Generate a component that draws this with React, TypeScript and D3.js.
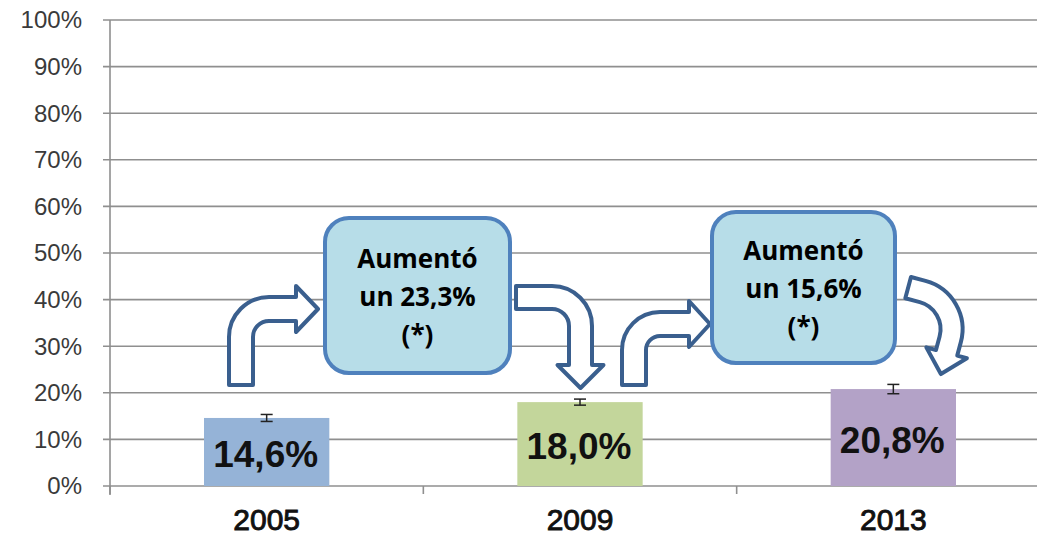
import React from "react";
import * as d3 from "d3";

const years = ["2005", "2009", "2013"];
const values = [0.146, 0.18, 0.208];
const errors = [0.0075, 0.0065, 0.01];
const valueLabels = ["14,6%", "18,0%", "20,8%"];
const barColors = ["#95B3D7", "#C3D69B", "#B3A2C7"];
const yTicks = [0, 0.1, 0.2, 0.3, 0.4, 0.5, 0.6, 0.7, 0.8, 0.9, 1.0];
const boxTexts = [
  ["Aumentó", "un 23,3%", "(*)"],
  ["Aumentó", "un 15,6%", "(*)"],
];

const W = 1037;
const H = 537;

function bentArrow(w: number, h: number, L: number, R: number, hl: number, hh: number) {
  const ri = Math.max(R - w, 2);
  const c = -h + w / 2;
  return [
    `M0,0`,
    `L0,${-h + R}`,
    `A${R},${R} 0 0 1 ${R},${-h}`,
    `L${L - hl},${-h}`,
    `L${L - hl},${c - hh}`,
    `L${L},${c}`,
    `L${L - hl},${c + hh}`,
    `L${L - hl},${-h + w}`,
    `L${w + ri},${-h + w}`,
    `A${ri},${ri} 0 0 0 ${w},${-h + w + ri}`,
    `L${w},0`,
    `Z`,
  ].join(" ");
}

export default function App() {
  const y = d3.scaleLinear().domain([0, 1]).range([486, 20]);
  const x = d3
    .scaleBand<string>()
    .domain(years)
    .range([110, 1050])
    .paddingInner(0.6)
    .paddingOuter(0.3);
  const step = x.step();
  const axisX = 110;

  const arrows = [
    { tx: 229, ty: 385, rot: 0, d: bentArrow(24, 88, 89, 40, 22, 23) },
    { tx: 516, ty: 286, rot: 90, d: bentArrow(23, 76, 102, 40, 23, 23) },
    { tx: 622, ty: 385, rot: 0, d: bentArrow(24, 73, 88, 38, 21, 23) },
    { tx: 911, ty: 277, rot: 105, d: bentArrow(22, 65, 86, 50, 22, 21) },
  ];

  const boxes = [
    { x: 325, y: 218, w: 185, h: 155, lines: boxTexts[0], base: 268 },
    { x: 712, y: 212, w: 183, h: 151, lines: boxTexts[1], base: 260 },
  ];

  return (
    <svg width={W} height={H} style={{ position: "absolute", left: 0, top: 0, background: "#fff" }}>
      <rect x={0} y={0} width={W} height={H} fill="#fff" />
      {yTicks.map((t) => (
        <g key={t}>
          <line x1={103} x2={W} y1={y(t)} y2={y(t)} stroke="#8f8f8f" strokeWidth={1.6} />
          <text
            x={82}
            y={y(t)}
            dy="0.35em"
            textAnchor="end"
            fontFamily="Liberation Sans, Arial, sans-serif"
            fontSize={24}
            fill="#3a3a3a"
          >
            {`${Math.round(t * 100)}%`}
          </text>
        </g>
      ))}
      <line x1={axisX} x2={axisX} y1={y(1)} y2={495} stroke="#8f8f8f" strokeWidth={1.6} />
      {d3.range(years.length + 1).map((i) => (
        <line
          key={i}
          x1={axisX + i * step}
          x2={axisX + i * step}
          y1={y(0)}
          y2={y(0) + 8}
          stroke="#8f8f8f"
          strokeWidth={1.6}
        />
      ))}
      {years.map((yr, i) => {
        const cx = x(yr)! + x.bandwidth() / 2;
        return (
          <g key={yr}>
            <rect
              x={x(yr)!}
              y={y(values[i])}
              width={x.bandwidth()}
              height={y(0) - y(values[i])}
              fill={barColors[i]}
            />
            <g stroke="#222" strokeWidth={1.5}>
              <line x1={cx} x2={cx} y1={y(values[i] + errors[i])} y2={y(values[i] - errors[i])} />
              <line x1={cx - 6} x2={cx + 6} y1={y(values[i] + errors[i])} y2={y(values[i] + errors[i])} />
              <line x1={cx - 6} x2={cx + 6} y1={y(values[i] - errors[i])} y2={y(values[i] - errors[i])} />
            </g>
            <text
              x={cx - 1}
              y={y(values[i] / 2) + 15}
              textAnchor="middle"
              fontFamily="Liberation Sans, Arial, sans-serif"
              fontWeight="bold"
              fontSize={37}
              fill="#111"
            >
              {valueLabels[i]}
            </text>
            <text
              x={cx}
              y={530}
              textAnchor="middle"
              fontFamily="Liberation Sans, Arial, sans-serif"
              fontSize={30}
              fill="#111"
              stroke="#111"
              strokeWidth={0.9}
            >
              {yr}
            </text>
          </g>
        );
      })}
      {arrows.map((a, i) => (
        <path
          key={i}
          d={a.d}
          transform={`translate(${a.tx},${a.ty}) rotate(${a.rot})`}
          fill="#fff"
          stroke="#3A5F8E"
          strokeWidth={4}
          strokeLinejoin="round"
        />
      ))}
      {boxes.map((b, i) => (
        <g key={i}>
          <rect
            x={b.x}
            y={b.y}
            width={b.w}
            height={b.h}
            rx={24}
            ry={24}
            fill="#B7DDE8"
            stroke="#4F81BD"
            strokeWidth={4}
          />
          {b.lines.map((t, j) => (
            <text
              key={j}
              x={b.x + b.w / 2}
              y={b.base + j * 38}
              textAnchor="middle"
              fontFamily="Open Sans, sans-serif"
              fontWeight="bold"
              fontSize={26}
              fill="#000"
            >
              {t}
            </text>
          ))}
        </g>
      ))}
    </svg>
  );
}
